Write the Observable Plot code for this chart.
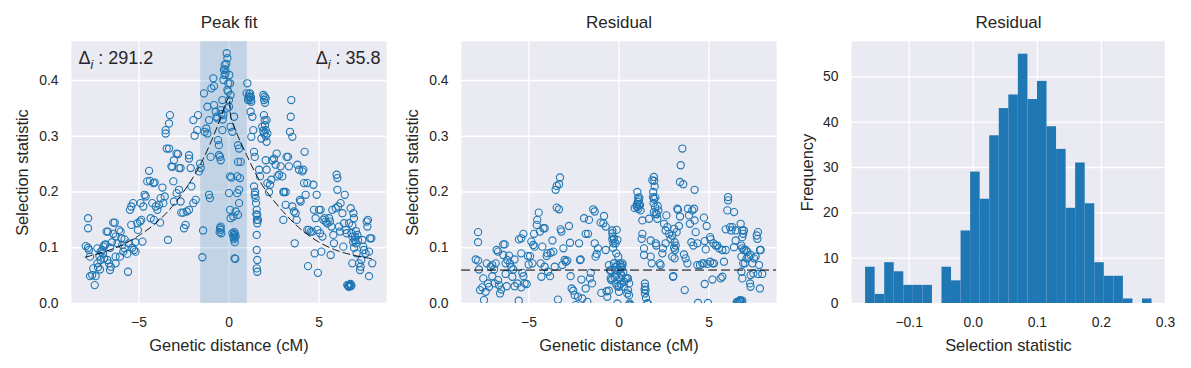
<!DOCTYPE html>
<html><head><meta charset="utf-8">
<script src="https://cdn.jsdelivr.net/npm/d3@7"></script>
<script src="https://cdn.jsdelivr.net/npm/@observablehq/plot@0.6"></script>
<style>
body{margin:0;background:#fff;}
#fig{position:relative;width:1191px;height:368px;background:#fff;}
#fig svg{position:absolute;left:0;top:0;}
</style></head><body><div id="fig"></div>
<script>
// ---------- data ----------
// Panel 1: observed selection statistic vs genetic distance (cM)
const peakPts = [
[-7.83,0.153],[-7.83,0.135],[-7.96,0.103],[-7.83,0.10],[-7.78,0.096],[-7.72,0.084],[-7.72,0.049],[-7.6,0.051],
[-7.46,0.033],[-7.41,0.049],[-7.54,0.063],[-7.31,0.072],[-7.28,0.065],[-7.17,0.061],[-7.31,0.099],[-7.13,0.093],
[-7.04,0.096],[-6.98,0.102],[-6.91,0.105],[-6.85,0.106],[-6.8,0.129],[-6.72,0.129],[-6.76,0.078],[-6.67,0.072],
[-6.61,0.06],[-6.57,0.066],[-7.13,0.078],[-6.94,0.081],[-6.43,0.145],[-6.35,0.145],[-6.43,0.125],[-6.3,0.12],
[-6.2,0.108],[-6.3,0.084],[-6.3,0.072],[-6.11,0.132],[-6.02,0.129],[-5.98,0.117],[-5.93,0.105],[-5.8,0.115],
[-5.8,0.099],[-5.65,0.089],[-5.61,0.057],[-5.56,0.108],[-5.5,0.168],[-5.43,0.174],[-5.33,0.18],[-5.37,0.1],
[-5.28,0.096],[-5.19,0.093],[-5.09,0.144],[-5.06,0.132],[-6.06,0.084],[-5.87,0.093],[-5.43,0.141],[-4.94,0.147],
[-4.87,0.15],[-4.81,0.111],[-4.91,0.18],[-4.76,0.174],[-4.69,0.195],[-4.63,0.192],[-4.54,0.219],[-4.44,0.238],
[-4.39,0.22],[-4.35,0.153],[-4.26,0.18],[-4.2,0.216],[-4.13,0.217],[-4.17,0.15],[-4.07,0.174],[-3.98,0.168],
[-3.89,0.177],[-3.83,0.145],[-3.8,0.189],[-3.7,0.208],[-3.65,0.18],[-3.57,0.192],[-3.52,0.311],[-3.52,0.305],
[-3.46,0.278],[-3.33,0.278],[-3.39,0.114],[-3.28,0.338],[-3.33,0.323],[-3.2,0.246],[-3.15,0.245],[-3.09,0.219],
[-3.06,0.257],[-3.06,0.183],[-2.91,0.269],[-2.83,0.268],[-2.78,0.243],[-2.69,0.243],[-2.91,0.198],[-2.78,0.204],
[-2.69,0.183],[-2.65,0.163],[-2.54,0.163],[-2.5,0.135],[-2.41,0.141],[-2.35,0.165],[-2.22,0.168],[-2.22,0.266],
[-2.22,0.26],[-2.13,0.243],[-2.09,0.21],[-1.98,0.329],[-1.98,0.18],[-1.91,0.301],[-1.85,0.186],[-1.76,0.311],
[-1.72,0.338],[-1.67,0.237],[-1.61,0.251],[-1.57,0.243],[-1.48,0.083],[-1.44,0.131],[-1.39,0.377],[-1.35,0.308],
[-1.26,0.314],[-1.2,0.305],[-1.2,0.353],[-1.11,0.329],[-1.11,0.195],[-1.06,0.189],[-1.02,0.263],[-0.98,0.386],
[-0.87,0.404],[-0.83,0.39],[-0.83,0.356],[-0.74,0.344],[-0.69,0.335],[-0.65,0.332],[-0.61,0.293],[-0.56,0.284],
[-0.56,0.266],[-0.5,0.263],[-0.46,0.257],[-0.46,0.132],[-0.43,0.126],[-0.46,0.138],[-0.37,0.311],[-0.31,0.338],
[-0.37,0.365],[-0.31,0.401],[-0.28,0.419],[-0.24,0.428],[-0.19,0.413],[-0.13,0.449],[-0.09,0.44],[-0.09,0.383],
[-0.04,0.395],[0,0.365],[-0.46,0.347],[0.06,0.395],[0.09,0.374],[0,0.353],[0.09,0.317],[0.19,0.308],
[0.06,0.228],[0.13,0.226],[0,0.198],[0.06,0.168],[0.09,0.153],[0.19,0.126],[0.28,0.123],[0.37,0.12],
[0.31,0.081],[0.28,0.335],[0.24,0.156],[0.37,0.165],[0.46,0.228],[0.5,0.284],[0.56,0.278],[0.5,0.254],
[0.56,0.204],[0.46,0.198],[0.56,0.18],[0.5,0.159],[0.61,0.225],[0.65,0.254],[1.02,0.395],[0.98,0.377],
[1.06,0.365],[1.17,0.377],[1.24,0.362],[1.2,0.344],[1.3,0.335],[1.24,0.299],[1.35,0.311],[1.39,0.272],
[1.43,0.263],[1.39,0.21],[1.43,0.195],[1.48,0.189],[1.54,0.168],[1.57,0.159],[1.57,0.144],[1.61,0.15],
[1.54,0.123],[1.54,0.096],[1.57,0.078],[1.54,0.063],[1.57,0.057],[1.67,0.24],[1.72,0.228],[1.8,0.296],
[1.85,0.317],[1.91,0.374],[1.94,0.338],[1.98,0.371],[2.04,0.368],[1.98,0.329],[2.04,0.311],[2.09,0.29],
[2.09,0.329],[2.13,0.305],[2.04,0.257],[2.09,0.24],[2.13,0.216],[2.22,0.2],[2.28,0.213],[2.35,0.222],
[2.41,0.257],[2.5,0.26],[2.59,0.249],[2.65,0.269],[2.69,0.228],[2.78,0.231],[2.87,0.246],[2.96,0.228],
[3.02,0.2],[3.06,0.2],[3.15,0.2],[3.02,0.15],[3.15,0.177],[3.2,0.263],[3.28,0.263],[3.33,0.246],
[3.39,0.308],[3.43,0.335],[3.46,0.365],[3.52,0.299],[3.52,0.174],[3.61,0.165],[3.65,0.108],[3.7,0.162],
[3.76,0.15],[3.8,0.249],[3.89,0.24],[3.94,0.186],[3.98,0.183],[4.07,0.237],[4.13,0.24],[4.2,0.272],
[4.17,0.216],[4.26,0.195],[4.35,0.216],[4.35,0.132],[4.39,0.067],[4.44,0.132],[4.54,0.129],[4.63,0.129],
[4.69,0.213],[4.72,0.168],[4.76,0.09],[4.81,0.153],[4.87,0.195],[4.91,0.132],[4.94,0.055],[5.0,0.168],
[5.06,0.126],[5.09,0.168],[5.13,0.093],[5.19,0.12],[5.24,0.15],[5.31,0.153],[5.37,0.147],[5.46,0.144],
[5.56,0.153],[5.61,0.147],[5.65,0.087],[5.69,0.138],[5.74,0.168],[5.8,0.123],[5.83,0.108],[5.93,0.171],
[5.98,0.231],[6.02,0.225],[6.02,0.204],[6.06,0.174],[6.11,0.138],[6.17,0.129],[6.2,0.18],[6.3,0.162],
[6.35,0.102],[6.39,0.144],[6.43,0.195],[6.48,0.132],[6.54,0.126],[6.57,0.033],[6.67,0.031],[6.72,0.033],
[6.76,0.031],[6.67,0.144],[6.76,0.171],[6.8,0.126],[6.85,0.12],[6.85,0.072],[6.91,0.162],[6.94,0.153],
[6.98,0.114],[7.04,0.108],[7.09,0.09],[7.13,0.123],[7.17,0.114],[7.22,0.072],[7.28,0.06],[7.31,0.066],
[7.35,0.078],[7.41,0.114],[7.46,0.102],[7.5,0.096],[7.59,0.09],[7.65,0.147],[7.69,0.138],[7.72,0.15],
[7.78,0.093],[7.78,0.049],[7.83,0.117],[7.91,0.117],[7.96,0.072],
[0.3,0.118],[0.33,0.125],[0.25,0.12],[0.35,0.08],[1.1,0.372],[1.15,0.37],[1.2,0.365],[6.7,0.034],
[6.8,0.032],[6.62,0.032],[-0.2,0.42],[-0.25,0.41],[-0.35,0.33],[-0.42,0.34],[1.95,0.365],[2.0,0.36],
[1.12,0.376],[1.08,0.368],[1.22,0.37],[0.27,0.115],[0.32,0.11],[0.29,0.128],[-0.52,0.128],[-0.5,0.135],
[1.9,0.31],[1.95,0.305],[2.0,0.32],[2.05,0.3],[1.45,0.2],[1.5,0.18],[1.55,0.15],[1.52,0.16],
[-0.1,0.35],[-0.05,0.38],[0.02,0.41],[-0.15,0.43],[6.75,0.035],[6.65,0.03],[6.85,0.14],[6.9,0.11],
[6.95,0.1],[7.0,0.12],[7.05,0.13],[-7.0,0.09],[-7.2,0.085],[-6.6,0.1],[-6.5,0.11],[-5.2,0.11]
];
// Fitted peak (dashed line)
const fitX = [-8, -7, -6, -5, -4, -3, -2, -1.5, -1, -0.5, -0.1, 0, 0.1, 0.5, 1, 1.5, 2, 3, 4, 5, 6, 7, 8];
const fitY = [0.083, 0.092, 0.104, 0.122, 0.146, 0.18, 0.226, 0.255, 0.29, 0.33, 0.365, 0.37, 0.335, 0.3, 0.265, 0.232, 0.205, 0.165, 0.133, 0.11, 0.095, 0.086, 0.08];
// Shaded interval around the peak
const shadeInterval = [-1.57, 1.02];
// Annotations
const deltaLabels = ["291.2", "35.8"];

// Panel 2: residuals vs genetic distance
const residPts = [
[-7.83,0.128],[-7.83,0.11],[-7.96,0.079],[-7.83,0.077],[-7.78,0.061],[-7.72,0.024],[-7.6,0.029],[-7.54,0.045],
[-7.5,0.006],[-7.41,0.021],[-7.35,0.072],[-7.28,0.036],[-7.22,0.03],[-7.13,0.066],[-7.04,0.069],[-6.94,0.061],
[-6.85,0.072],[-6.8,0.096],[-6.72,0.093],[-6.72,0.042],[-6.67,0.033],[-6.61,0.018],[-6.54,0.025],[-7.04,0.049],
[-6.91,0.036],[-6.43,0.106],[-6.35,0.106],[-6.43,0.087],[-6.3,0.072],[-6.3,0.053],[-6.24,0.031],[-6.2,0.078],
[-6.11,0.086],[-6.06,0.072],[-5.98,0.065],[-5.93,0.048],[-5.87,0.061],[-5.8,0.079],[-5.8,0.031],[-5.65,0.036],
[-5.57,0.005],[-5.56,0.115],[-5.43,0.117],[-5.31,0.125],[-5.43,0.09],[-5.43,0.029],[-5.31,0.049],[-5.24,0.036],
[-5.13,0.035],[-5.06,0.085],[-5.02,0.07],[-5.37,0.055],[-4.94,0.085],[-4.87,0.111],[-4.81,0.072],[-4.76,0.105],
[-4.72,0.125],[-4.69,0.102],[-4.57,0.141],[-4.54,0.15],[-4.46,0.163],[-4.39,0.129],[-4.35,0.072],[-4.31,0.048],
[-4.26,0.102],[-4.2,0.135],[-4.13,0.135],[-4.13,0.066],[-4.02,0.085],[-3.98,0.09],[-3.94,0.057],[-3.83,0.049],
[-3.8,0.091],[-3.7,0.113],[-3.65,0.093],[-3.57,0.066],[-3.52,0.204],[-3.46,0.211],[-3.39,0.007],[-3.33,0.214],
[-3.28,0.226],[-3.46,0.172],[-3.33,0.169],[-3.24,0.133],[-3.2,0.129],[-3.15,0.069],[-3.09,0.099],[-3.02,0.078],
[-2.96,0.075],[-2.87,0.077],[-2.78,0.139],[-2.72,0.109],[-2.69,0.049],[-2.63,0.027],[-2.54,0.023],[-2.46,0.015],
[-2.41,-0.003],[-2.28,0.012],[-2.22,0.108],[-2.17,0.078],[-2.13,0.079],[-2.09,0.043],[-2.04,0.009],[-1.94,0.153],
[-1.85,0.125],[-1.85,0.027],[-1.76,0.003],[-1.72,0.125],[-1.67,0.15],[-1.61,0.045],[-1.57,0.055],[-1.5,0.036],
[-1.43,0.169],[-1.35,0.165],[-1.35,0.108],[-1.3,0.084],[-1.24,0.089],[-1.17,0.099],[-1.02,0.145],[-0.98,0.019],
[-0.87,0.144],[-0.83,0.157],[-0.74,0.138],[-0.74,0.096],[-0.69,0.022],[-0.65,0.012],[-0.56,0.069],[-0.56,0.023],
[-0.5,0.059],[-0.46,0.045],[-0.43,0.042],[-0.37,0.126],[-0.37,0.115],[-0.31,0.108],[-0.28,0.072],[-0.24,0.047],
[-0.19,0.065],[-0.13,0.132],[-0.09,0.114],[-0.09,0.031],[-0.04,0.084],[0,0.021],[0.06,0.072],[0.06,0.045],
[0.09,0.035],[0.13,0.066],[0.19,0.069],[0.24,0.057],[0.28,0.03],[0.28,0.039],[0.37,0.045],[0.5,0.045],
[0.5,0.024],[0.56,0.015],[0.56,-0.003],[0.65,-0.003],
[-0.37,0.131],[-0.28,0.116],[-0.19,0.108],[-0.15,0.09],[-0.46,0.06],[-0.28,0.072],[-0.09,0.069],[0,0.06],
[0.09,0.054],[0.19,0.072],[-0.37,0.045],[-0.19,0.036],[0,0.03],[0.46,0.045],[0.56,0.036],[0.46,0.018],
[-0.09,0.0],[0.59,0.0],
[1.02,0.2],[1.02,0.173],[1.11,0.185],[1.2,0.167],[1.3,0.149],[1.3,0.125],[1.26,0.116],[1.39,0.099],
[1.39,0.087],[1.44,0.036],[1.48,0.024],[1.44,0.018],[1.57,0.0],[1.6,0.0],[1.67,0.152],[1.76,0.113],
[1.76,0.084],[1.82,0.072],[1.85,0.221],[1.94,0.227],[1.89,0.191],[1.94,0.188],[1.94,0.164],[2.0,0.173],
[2.04,0.161],[2.04,0.108],[2.07,0.104],[2.13,0.152],[2.19,0.167],[2.26,0.072],[2.31,0.069],[2.41,0.09],
[2.44,0.099],[2.5,0.143],[2.59,0.131],[2.63,0.158],[2.69,0.137],[2.78,0.125],[2.87,0.116],[2.96,0.084],
[3.0,0.048],[3.06,0.134],[3.11,0.096],[2.59,0.108],[0.87,0.171],[0.98,0.174],[1.06,0.19],[1.11,0.176],
[1.17,0.177],
[3.52,0.278],[3.43,0.248],[3.39,0.218],[3.57,0.214],[4.2,0.204],[3.24,0.17],[3.28,0.168],[3.39,0.156],
[3.83,0.17],[4.07,0.167],[4.17,0.17],[3.89,0.158],[4.2,0.149],[3.94,0.143],[3.33,0.139],[3.2,0.128],
[4.26,0.128],[4.72,0.154],[4.87,0.139],[2.96,0.122],[3.09,0.11],[4.02,0.11],[4.13,0.104],[4.35,0.108],
[4.76,0.112],[5.06,0.119],[4.82,0.097],[5.09,0.115],[5.24,0.108],[5.37,0.104],[5.46,0.104],[5.56,0.099],
[5.74,0.096],[5.93,0.096],[3.06,0.1],[3.15,0.104],[3.09,0.081],[3.61,0.088],[3.7,0.081],[3.8,0.072],
[3.65,0.024],[4.35,0.069],[4.5,0.069],[4.63,0.072],[4.72,0.072],[4.91,0.071],[5.06,0.075],[5.2,0.072],
[5.28,0.072],[3.02,0.049],[4.76,0.035],[5.19,0.043],[5.65,0.045],[5.74,0.048],[4.39,0.001],[4.94,0.001],
[5.83,0.075],[6.02,0.167],[6.06,0.191],[6.06,0.185],[6.39,0.164],[6.3,0.137],[6.24,0.131],[6.17,0.137],
[5.93,0.133],[6.48,0.131],[6.39,0.101],[6.48,0.113],[6.76,0.143],[6.85,0.131],[6.94,0.131],[6.9,0.125],
[6.85,0.119],[6.8,0.104],[6.85,0.099],[6.94,0.096],[7.04,0.096],[7.13,0.093],[6.8,0.084],[6.9,0.072],
[7.09,0.081],[7.22,0.084],[6.8,0.057],[6.85,0.045],[7.0,0.072],[7.31,0.087],[7.41,0.072],[7.5,0.081],
[7.59,0.084],[7.72,0.128],[7.65,0.122],[7.69,0.116],[7.87,0.096],[7.83,0.096],[7.28,0.036],[7.31,0.03],
[7.46,0.054],[7.31,0.051],[7.72,0.053],[7.83,0.027],[7.96,0.053],[7.78,0.069],[6.57,0.001],[6.67,0.003],
[6.76,0.005],[6.85,0.005],[6.54,0.003],
[6.6,0.002],[6.7,0.004],[6.8,0.003],[6.72,0.006],[1.0,0.178],[1.05,0.182],[1.08,0.17],[1.13,0.19],
[1.9,0.2],[1.92,0.18],[1.98,0.21],[2.02,0.19],[1.96,0.22],[-0.35,0.12],[-0.33,0.1],[-0.2,0.06],
[-0.15,0.05],[0.1,0.065],[0.15,0.05],[1.45,0.03],[1.5,0.01],[1.42,0.025],[2.1,0.16],[2.15,0.175]
];
const residBaseline = [0.06];

// Panel 3: histogram of residuals
const binEdges = [-0.168,-0.1531,-0.1382,-0.1233,-0.1084,-0.0935,-0.0786,-0.0637,-0.0488,-0.0339,-0.019,-0.0041,
  0.0108,0.0257,0.0406,0.0555,0.0704,0.0853,0.1002,0.1151,0.13,0.1449,0.1598,0.1747,0.1896,0.2045,0.2194,0.2343,
  0.2492,0.2641,0.279];
const binCounts = [8,2,9,7,4,4,4,0,8,5,16,29,23,37,43,46,55,45,49,39,34,21,31,22,9,6,6,1,0,1];

// Axis ticks and text
const distTicks = [-5, 0, 5];
const statTicks = [0, 0.1, 0.2, 0.3, 0.4];
const histXTicks = [-0.1, 0, 0.1, 0.2, 0.3];
const histYTicks = [0, 10, 20, 30, 40, 50];
const titles = ["Peak fit", "Residual", "Residual"];
const xLabels = ["Genetic distance (cM)", "Genetic distance (cM)", "Selection statistic"];
const yLabels = ["Selection statistic", "Selection statistic", "Frequency"];

// ---------- drawing ----------
const W = 1191, H = 368, TOP = 41, BOTTOM = 303;
const FONT = "'Liberation Sans', Arial, sans-serif";
const INK = "#262626", BG = "#eaeaf2", BLUE = "#1f77b4";
const TICK_FS = 13.9, LABEL_FS = 16.4, TITLE_FS = 17, NOTE_FS = 18;

function panel({left, right, xDomain, yDomain, xTicks, yTicks, xFmt, yFmt, marks, idx, yLabelDx}) {
  return Plot.plot({
    width: W, height: H,
    marginLeft: left, marginRight: W - right, marginTop: TOP, marginBottom: H - BOTTOM,
    x: {domain: xDomain}, y: {domain: yDomain},
    style: {fontFamily: FONT, color: INK, background: "transparent", overflow: "visible"},
    marks: [
      Plot.frame({fill: BG, stroke: "none"}),
      Plot.gridX({ticks: xTicks, stroke: "white", strokeOpacity: 1, strokeWidth: 1.3}),
      Plot.gridY({ticks: yTicks, stroke: "white", strokeOpacity: 1, strokeWidth: 1.3}),
      ...marks,
      Plot.axisX({ticks: xTicks, tickSize: 0, tickPadding: 14, tickFormat: xFmt, fontSize: TICK_FS, label: null, fill: INK}),
      Plot.axisY({ticks: yTicks, tickSize: 0, tickPadding: 13, tickFormat: yFmt, fontSize: TICK_FS, label: null, fill: INK}),
      Plot.text([titles[idx]], {text: d => d, frameAnchor: "top", dy: -19, lineAnchor: "middle", fontSize: TITLE_FS, fill: INK}),
      Plot.text([xLabels[idx]], {text: d => d, frameAnchor: "bottom", dy: 42, lineAnchor: "middle", fontSize: LABEL_FS, fill: INK}),
      Plot.text([yLabels[idx]], {text: d => d, frameAnchor: "left", dx: -yLabelDx, rotate: -90, textAnchor: "middle", lineAnchor: "middle", fontSize: LABEL_FS, fill: INK})
    ]
  });
}

const fmt1 = d3.format(".1f");
const fmtInt = d3.format("d");
const fitLine = fitX.map((x, i) => ({x, y: fitY[i]}));
const statDomain = [0, 0.47];
const distDomain = [-8.75, 8.75];
const DOT = {r: 3.6, stroke: BLUE, strokeWidth: 1.1, fill: "none", clip: true};

const p1 = panel({
  left: 71, right: 386, xDomain: distDomain, yDomain: statDomain,
  xTicks: distTicks, yTicks: statTicks, xFmt: fmtInt, yFmt: fmt1, idx: 0, yLabelDx: 49,
  marks: [
    Plot.rect([shadeInterval], {x1: d => d[0], x2: d => d[1], y1: statDomain[0], y2: statDomain[1], fill: BLUE, fillOpacity: 0.2}),
    Plot.dot(peakPts, {x: d => d[0], y: d => d[1], ...DOT}),
    Plot.line(fitLine, {x: "x", y: "y", curve: "catmull-rom", stroke: "black", strokeWidth: 0.9, strokeDasharray: "7,4"}),
    Plot.text([deltaLabels[0]], {text: d => "Δi : " + d, frameAnchor: "top-left", dx: 7, dy: 17, textAnchor: "start", lineAnchor: "middle", fontSize: NOTE_FS, fill: INK}),
    Plot.text([deltaLabels[1]], {text: d => "Δi : " + d, frameAnchor: "top-right", dx: -6, dy: 17, textAnchor: "end", lineAnchor: "middle", fontSize: NOTE_FS, fill: INK})
  ]
});

const p2 = panel({
  left: 461, right: 776, xDomain: distDomain, yDomain: statDomain,
  xTicks: distTicks, yTicks: statTicks, xFmt: fmtInt, yFmt: fmt1, idx: 1, yLabelDx: 49,
  marks: [
    Plot.dot(residPts, {x: d => d[0], y: d => d[1], ...DOT}),
    Plot.ruleY(residBaseline, {stroke: "black", strokeOpacity: 1, strokeWidth: 1, strokeDasharray: "9,4"})
  ]
});

const p3 = panel({
  left: 851, right: 1165, xDomain: [-0.19, 0.3], yDomain: [0, 57.8],
  xTicks: histXTicks, yTicks: histYTicks, xFmt: fmt1, yFmt: fmtInt, idx: 2, yLabelDx: 44,
  marks: [
    Plot.rectY(d3.range(binCounts.length), {x1: i => binEdges[i], x2: i => binEdges[i + 1], y: i => binCounts[i], fill: BLUE})
  ]
});

const fig = document.getElementById("fig");
for (const p of [p1, p2, p3]) fig.appendChild(p);

// Render Δ_i with an italic subscript i (as in mathtext)
const NS = "http://www.w3.org/2000/svg";
for (const t of p1.querySelectorAll("text")) {
  const s = t.textContent;
  if (s.startsWith("Δi : ")) {
    const rest = s.slice(2);
    t.textContent = "";
    const a = document.createElementNS(NS, "tspan"); a.textContent = "Δ";
    const b = document.createElementNS(NS, "tspan"); b.textContent = "i";
    b.setAttribute("font-style", "italic"); b.setAttribute("font-size", "12.5"); b.setAttribute("dy", "4.5");
    const c = document.createElementNS(NS, "tspan"); c.textContent = rest; c.setAttribute("dy", "-4.5");
    t.append(a, b, c);
  }
}
</script></body></html>
